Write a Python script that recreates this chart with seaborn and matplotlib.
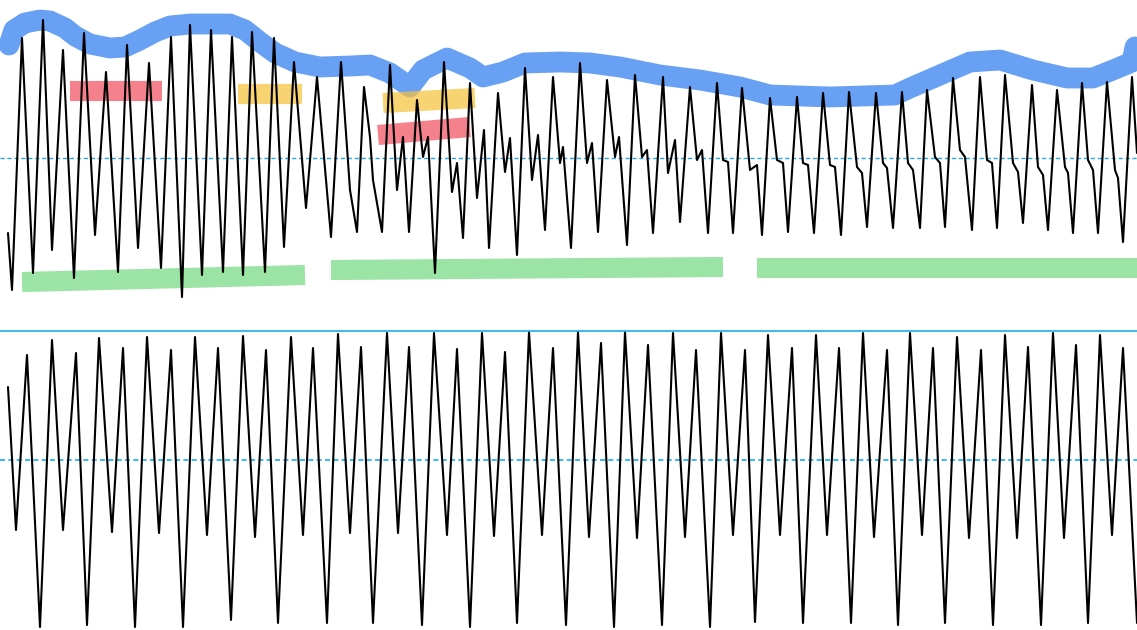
import matplotlib
matplotlib.use("Agg")
import matplotlib.pyplot as plt
import seaborn as sns

# top trace: turning points (time, amplitude)
top_t = [8, 12, 22, 33, 43, 52, 63, 74, 84, 95, 106, 118, 127, 138, 149, 161, 171, 182,
         190, 202, 211, 223, 232, 243, 252, 265, 274, 284, 294, 306, 317, 331, 341, 350,
         357, 364, 370, 373, 382, 390, 397, 403, 409, 417, 423, 428, 435, 444, 452, 457,
         463, 470, 477, 484, 489, 498, 505, 510, 517, 525, 532, 538, 545, 553, 560, 563,
         571, 580, 587, 592, 598, 607, 615, 619, 627, 635, 642, 647, 653, 663, 668, 675,
         680, 690, 697, 702, 708, 717, 723, 728, 733, 742, 750, 757, 762, 770, 777, 783,
         788, 797, 803, 808, 814, 823, 830, 835, 841, 849, 857, 862, 867, 876, 883, 887,
         893, 902, 908, 913, 920, 927, 935, 940, 945, 953, 960, 965, 972, 980, 987, 992,
         997, 1005, 1013, 1018, 1023, 1032, 1038, 1043, 1048, 1057, 1065, 1068, 1073, 1082,
         1088, 1093, 1098, 1107, 1115, 1118, 1123, 1132, 1137]
top_v = [-75, -132, 120, -115, 138, -92, 108, -120, 125, -77, 86, -114, 113, -90, 95, -110,
         121, -139, 133, -117, 128, -114, 121, -117, 126, -114, 120, -89, 96, -50, 81, -79,
         96, -32, -74, 71, 21, -22, -74, 93, -32, 21, -74, 58, 1, 21, -115, 96, -34, -5,
         -80, 75, -40, 28, -90, 65, -14, 20, -97, 90, -22, 23, -72, 81, -5, 11,
         -90, 95, -5, 15, -74, 78, 1, 21, -87, 83, 1, 8, -75, 81, -15, 18,
         -64, 71, -2, 8, -75, 75, -2, -4, -75, 70, -12, -7, -77, 60, -2, -5,
         -74, 61, -5, -7, -75, 65, -7, -9, -77, 66, -9, -15, -69, 65, -5, -10,
         -70, 66, -5, -12, -70, 68, 1, -5, -69, 80, 8, 1, -72, 81, -2, -5,
         -70, 83, -5, -14, -65, 73, -9, -17, -72, 68, -9, -15, -75, 75,
         -2, -12, -75, 76, -12, -20, -84, 81, 5]

# bottom trace: alternating big and small cycles
bot_t = [8, 16, 27, 40, 52, 63, 76, 87, 99, 112, 123, 135, 147, 159, 171, 183, 195, 207,
         218, 231, 243, 255, 266, 278, 291, 303, 313, 327, 338, 350, 361, 373, 387, 398,
         409, 422, 434, 447, 457, 470, 482, 494, 505, 517, 529, 542, 553, 566, 578, 589,
         601, 614, 625, 637, 648, 662, 673, 685, 696, 710, 721, 733, 745, 755, 768, 780,
         792, 803, 816, 827, 839, 851, 863, 874, 887, 898, 910, 922, 933, 945, 957, 969,
         981, 993, 1005, 1017, 1028, 1041, 1053, 1064, 1076, 1088, 1100, 1112, 1123, 1137]
bot_v = [73, -70, 105, -167, 120, -70, 107, -165, 122, -72, 112, -167, 123, -73, 110, -167,
         123, -75, 112, -160, 124, -77, 110, -163, 123, -75, 112, -163, 126, -73, 113, -163,
         127, -73, 113, -165, 127, -75, 111, -167, 127, -76, 108, -163, 128, -75, 112, -165,
         128, -77, 117, -167, 128, -78, 115, -165, 127, -77, 110, -167, 127, -75, 110, -162,
         125, -75, 112, -163, 125, -75, 112, -163, 127, -77, 110, -165, 127, -75, 112, -163,
         123, -78, 110, -165, 125, -78, 113, -165, 127, -78, 115, -163, 125, -75, 112, -163]

# hand-drawn envelope over the top trace
env_t = [9, 14, 25, 40, 50, 65, 75, 90, 110, 125, 140, 155, 170, 190, 230, 245, 260, 275,
         295, 320, 350, 370, 390, 410, 423, 447, 470, 483, 503, 525, 560, 590, 620, 660,
         700, 740, 770, 830, 895, 910, 940, 970, 1000, 1033, 1067, 1093, 1113, 1132, 1135]
env_v = [113, 128, 135, 138, 137, 130, 122, 114, 110, 111, 118, 126, 132, 134, 134, 128,
         116, 105, 96, 91, 92, 93, 85, 71, 88, 100, 90, 81, 86, 95, 96, 95, 91, 83,
         78, 71, 63, 61, 63, 70, 83, 96, 98, 88, 80, 80, 88, 96, 111]

# marker strokes: (start, end, level at start, level at end)
red_marks = [(70, 162, 67, 67), (378, 470, 23, 31)]
yellow_marks = [(238, 302, 64, 64), (383, 475, 55, 60)]
green_marks = [(22, 305, -124, -117), (331, 723, -112, -109), (757, 1137, -110, -110)]

sns.set_style("white")
fig = plt.figure(figsize=(11.37, 6.3), dpi=100)
ax_top = fig.add_axes([0, 320 / 630, 1, 310 / 630])
ax_bot = fig.add_axes([0, 0, 1, 310 / 630])

# markers sit under the trace
sns.lineplot(x=env_t, y=env_v, ax=ax_top, color="#4289f0", alpha=0.8, linewidth=15,
             estimator=None, sort=False, solid_capstyle="round", solid_joinstyle="round")
for marks, col, a in [(red_marks, "#f0505f", 0.72), (yellow_marks, "#f6c23c", 0.72),
                      (green_marks, "#5ad26a", 0.6)]:
    for x0, x1, y0, y1 in marks:
        sns.lineplot(x=[x0, x1], y=[y0, y1], ax=ax_top, color=col, alpha=a, linewidth=14.5,
                     estimator=None, solid_capstyle="butt")

sns.lineplot(x=top_t, y=top_v, ax=ax_top, color="black", linewidth=1.5, estimator=None,
             solid_joinstyle="round")
sns.lineplot(x=bot_t, y=bot_v, ax=ax_bot, color="black", linewidth=1.5, estimator=None,
             solid_joinstyle="round")

ax_top.axhline(0, color="#29a8e0", linewidth=1, linestyle=(0, (3, 2)), zorder=0)
ax_bot.axhline(0, color="#16aef0", linewidth=1.2, linestyle=(0, (3, 2)), zorder=0)
ax_bot.axhline(129, color="#16aef0", linewidth=1.2)

ax_top.set_xlim(0, 1137)
ax_top.set_ylim(-152, 158)
ax_bot.set_xlim(0, 1137)
ax_bot.set_ylim(-170, 140)
for ax in (ax_top, ax_bot):
    ax.axis("off")

fig.savefig("out.png", dpi=100)
